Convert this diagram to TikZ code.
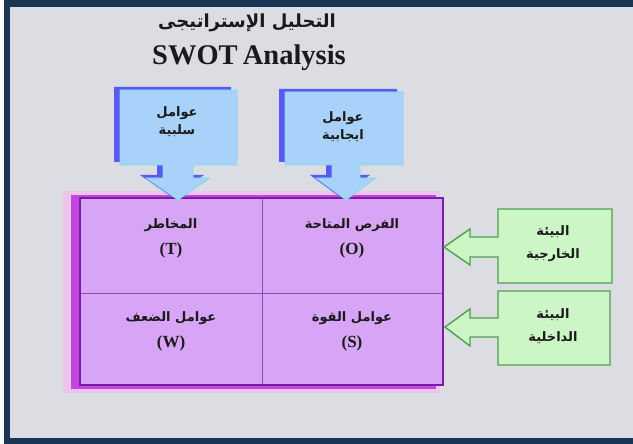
\documentclass[tikz,border=0pt]{standalone}
\usepackage{fontspec}
\TeXXeTstate=1
\newfontfamily\arabicfont[Script=Arabic]{DejaVu Sans}
\newfontfamily\latinserif{Liberation Serif}
\definecolor{navy}{HTML}{1B3556}
\definecolor{marble}{HTML}{DCDDE2}
\definecolor{gridfill}{HTML}{D8A4F6}
\definecolor{gridborder}{HTML}{7A1CA6}
\definecolor{gridline}{HTML}{8A4AB0}
\definecolor{gridshadow}{HTML}{C245E0}
\definecolor{pinkhalo}{HTML}{F2BCF0}
\definecolor{bluefill}{HTML}{A8D2FA}
\definecolor{blueshadow}{HTML}{5A5AF2}
\definecolor{blueedge}{HTML}{7FD8F0}
\definecolor{greenfill}{HTML}{CDF6C6}
\definecolor{greenedge}{HTML}{4F9F4F}
\definecolor{txt}{HTML}{1A1A1A}
\tikzset{
  artxt/.style={font=\arabicfont\bfseries\fontsize{13}{15}\selectfont, text=txt, inner sep=0pt},
  lettxt/.style={font=\latinserif\bfseries\fontsize{17}{19}\selectfont, text=txt, inner sep=0pt},
  bluebox/.style={fill=bluefill, draw=blueedge, line width=0.6pt},
  blueshad/.style={fill=blueshadow},
  greenbox/.style={fill=greenfill, draw=greenedge, line width=1.4pt},
}
\begin{document}
\begin{tikzpicture}[x=1pt,y=-1pt]
\useasboundingbox (0,0) rectangle (633,444);
\fill[white] (0,0) rectangle (633,444);
\fill[navy] (4,0) rectangle (633,444);
\fill[marble] (10,7) rectangle (633,438);

% title
\node[artxt, font=\arabicfont\bfseries\fontsize{18}{20}\selectfont] (titlear) at (247,23) {\beginR التحليل الإستراتيجى\endR};
\node[font=\latinserif\bfseries\fontsize{28.5}{31}\selectfont, text=txt, inner sep=0pt] (titleen) at (249,58) {SWOT\hspace{-2pt} Analysis};

% grid
\fill[pinkhalo, opacity=0.7] (63,191) rectangle (440,393);
\fill[gridshadow] (71,195) rectangle (436,389);
\fill[gridfill] (80,198) rectangle (443,385);
\draw[gridline, line width=0.9pt] (262,198) -- (262,385);
\draw[gridline, line width=0.9pt] (80,293) -- (443,293);
\draw[gridborder, line width=2pt] (80,198) rectangle (443,385);

% blue callouts
\begin{scope}[shift={(-6,-3)}]
\fill[blueshad] (120,90) -- (237,90) -- (237,165) -- (193,165) -- (193,178) -- (210,178) -- (178,200) -- (146,178) -- (163,178) -- (163,165) -- (120,165) -- cycle;
\fill[blueshad] (285,92) -- (403,92) -- (403,165) -- (360,165) -- (360,178) -- (376,178) -- (346,200) -- (316,178) -- (332,178) -- (332,165) -- (285,165) -- cycle;
\end{scope}
\draw[bluebox] (120,90) -- (237,90) -- (237,165) -- (193,165) -- (193,178) -- (210,178) -- (178,200) -- (146,178) -- (163,178) -- (163,165) -- (120,165) -- cycle;
\draw[bluebox] (285,92) -- (403,92) -- (403,165) -- (360,165) -- (360,178) -- (376,178) -- (346,200) -- (316,178) -- (332,178) -- (332,165) -- (285,165) -- cycle;

% green callouts
\draw[greenbox] (498,209) -- (612,209) -- (612,283) -- (498,283) -- (498,257) -- (470,257) -- (470,265) -- (444,247) -- (470,229) -- (470,237) -- (498,237) -- cycle;
\draw[greenbox] (498,291) -- (610,291) -- (610,365) -- (498,365) -- (498,337) -- (470,337) -- (470,346) -- (445,327) -- (470,309) -- (470,318) -- (498,318) -- cycle;

% callout texts
\node[artxt] (neg1) at (177,113) {\beginR عوامل\endR};
\node[artxt] (neg2) at (177,131) {\beginR سلبية\endR};
\node[artxt] (pos1) at (343,118) {\beginR عوامل\endR};
\node[artxt] (pos2) at (343,136) {\beginR ايجابية\endR};
\node[artxt] (ext1) at (553,232) {\beginR البيئة\endR};
\node[artxt] (ext2) at (553,255) {\beginR الخارجية\endR};
\node[artxt] (int1) at (553,315) {\beginR البيئة\endR};
\node[artxt] (int2) at (553,338) {\beginR الداخلية\endR};

% cell texts
\node[artxt] (t1) at (171,225) {\beginR المخاطر\endR};
\node[lettxt] (t2) at (171,250) {(T)};
\node[artxt] (o1) at (352,225) {\beginR الفرص المتاحة\endR};
\node[lettxt] (o2) at (352,250) {(O)};
\node[artxt] (w1) at (171,318) {\beginR عوامل الضعف\endR};
\node[lettxt] (w2) at (171,343) {(W)};
\node[artxt] (s1) at (352,318) {\beginR عوامل القوة\endR};
\node[lettxt] (s2) at (352,343) {(S)};
\end{tikzpicture}
\end{document}
